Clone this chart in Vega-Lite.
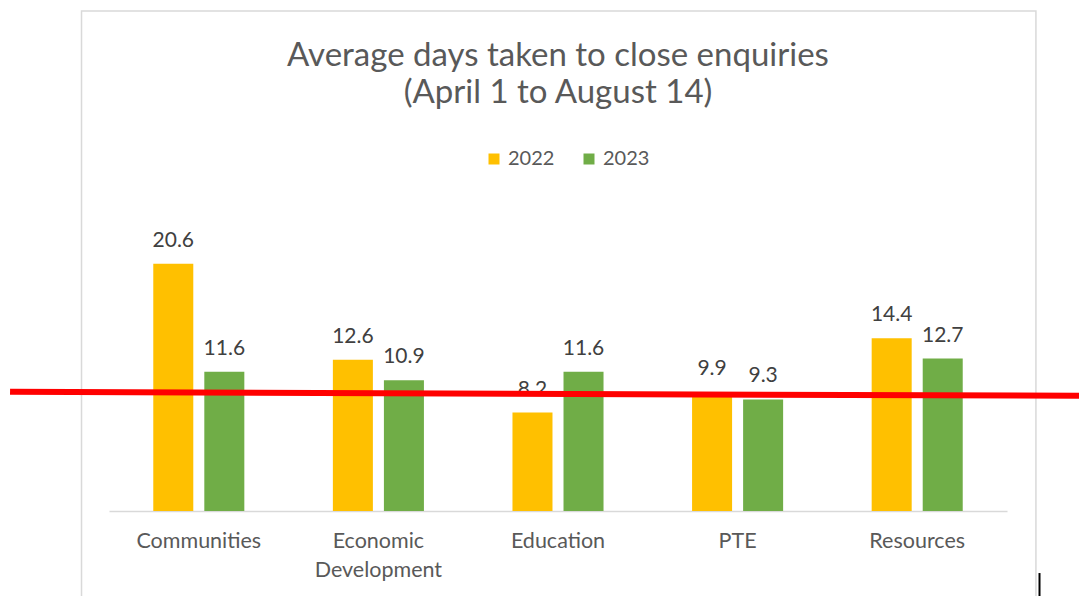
{
  "$schema": "https://vega.github.io/schema/vega-lite/v6.json",
  "autosize": {"type": "none"},
  "padding": {"left": 109, "top": 211, "right": 72, "bottom": 85},
  "width": 898,
  "height": 300,
  "background": "white",
  "title": {
    "text": ["Average days taken to close enquiries", "(April 1 to August 14)"],
    "font": "Lato",
    "fontSize": 33,
    "fontWeight": "normal",
    "color": "#595959",
    "lineHeight": 37,
    "anchor": "middle",
    "offset": -100
  },
  "config": {
    "view": {"stroke": null},
    "font": "Lato"
  },
  "datasets": {
    "main": [
      {"category": "Communities", "year": "2022", "value": 20.6},
      {"category": "Communities", "year": "2023", "value": 11.6},
      {"category": "Economic Development", "year": "2022", "value": 12.6},
      {"category": "Economic Development", "year": "2023", "value": 10.9},
      {"category": "Education", "year": "2022", "value": 8.2},
      {"category": "Education", "year": "2023", "value": 11.6},
      {"category": "PTE", "year": "2022", "value": 9.9},
      {"category": "PTE", "year": "2023", "value": 9.3},
      {"category": "Resources", "year": "2022", "value": 14.4},
      {"category": "Resources", "year": "2023", "value": 12.7}
    ],
    "frame": [{"x0": -0.153, "x1": 5.161, "y0": 41.67, "y1": -9.5}],
    "redline": [{"px": -0.551, "py": 9.93}, {"px": 5.401, "py": 9.6}],
    "cursor": [{"cx": 5.181, "cy0": -5.17, "cy1": -9.5}]
  },
  "layer": [
    {
      "data": {"name": "frame"},
      "mark": {"type": "rect", "filled": false, "stroke": "#d9d9d9", "strokeWidth": 1.5, "clip": false},
      "encoding": {
        "x": {"field": "x0", "type": "quantitative", "scale": {"domain": [0, 5], "nice": false, "zero": false}, "axis": null},
        "x2": {"field": "x1"},
        "y": {"field": "y0", "type": "quantitative", "scale": {"domain": [0, 25], "nice": false}, "axis": null},
        "y2": {"field": "y1"}
      }
    },
    {
      "data": {"name": "main"},
      "encoding": {
        "x": {
          "field": "category",
          "type": "nominal",
          "sort": ["Communities", "Economic Development", "Education", "PTE", "Resources"],
          "scale": {"paddingInner": 0.493, "paddingOuter": 0.2465},
          "axis": {
            "title": null,
            "labelAngle": 0,
            "domainColor": "#d9d9d9",
            "domainWidth": 1.5,
            "ticks": false,
            "tickSize": 0,
            "labelFont": "Lato",
            "labelFontSize": 21.5,
            "labelColor": "#595959",
            "labelPadding": 19,
            "labelBaseline": "top",
            "labelLineHeight": 29,
            "labelExpr": "datum.value == 'Economic Development' ? ['Economic', 'Development'] : datum.value"
          }
        },
        "xOffset": {"field": "year", "type": "nominal", "scale": {"paddingInner": 0.216, "paddingOuter": 0}},
        "y": {"field": "value", "type": "quantitative", "scale": {"domain": [0, 25], "nice": false}, "axis": null}
      },
      "layer": [
        {
          "mark": {"type": "bar"},
          "encoding": {
            "color": {
              "field": "year",
              "type": "nominal",
              "scale": {"domain": ["2022", "2023"], "range": ["#FFC000", "#70AD47"]},
              "legend": {
                "orient": "none",
                "legendX": 375,
                "legendY": -62,
                "direction": "horizontal",
                "title": null,
                "symbolType": "square",
                "symbolSize": 121,
                "symbolStrokeWidth": 0,
                "labelFont": "Lato",
                "labelFontSize": 20,
                "labelColor": "#595959",
                "labelOffset": 4,
                "columnPadding": 24
              }
            }
          }
        },
        {
          "mark": {"type": "text", "font": "Lato", "fontSize": 21, "color": "#404040", "baseline": "alphabetic", "dy": -17},
          "encoding": {
            "text": {"field": "value", "type": "quantitative", "format": ".1f"}
          }
        }
      ]
    },
    {
      "data": {"name": "redline"},
      "mark": {"type": "line", "color": "#FF0000", "strokeWidth": 6, "clip": false},
      "encoding": {
        "x": {"field": "px", "type": "quantitative", "scale": {"domain": [0, 5], "nice": false, "zero": false}, "axis": null},
        "y": {"field": "py", "type": "quantitative"}
      }
    },
    {
      "data": {"name": "cursor"},
      "mark": {"type": "rule", "color": "#000000", "strokeWidth": 2, "clip": false},
      "encoding": {
        "x": {"field": "cx", "type": "quantitative", "scale": {"domain": [0, 5], "nice": false, "zero": false}, "axis": null},
        "y": {"field": "cy0", "type": "quantitative"},
        "y2": {"field": "cy1"}
      }
    }
  ],
  "resolve": {"scale": {"x": "independent"}}
}
